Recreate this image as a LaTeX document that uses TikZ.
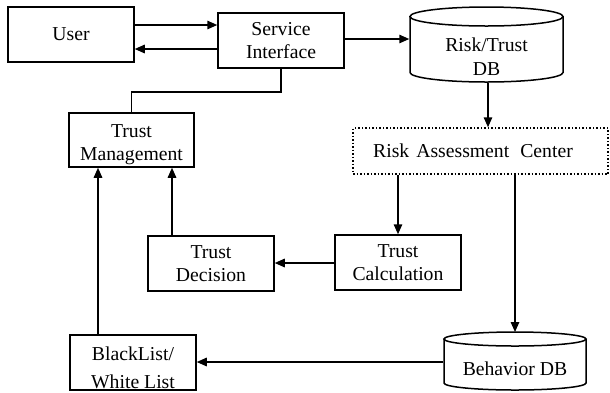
\documentclass[tikz,border=0pt]{standalone}
\usepackage{fontspec}
\setmainfont{Liberation Serif}
\usetikzlibrary{arrows.meta}
\begin{document}
\begin{tikzpicture}[x=1pt,y=-1pt,line width=1.5pt,
  txt/.style={font=\fontsize{19.7}{23.5}\selectfont},
  box/.style={draw,rectangle,minimum width=126pt,minimum height=55pt,inner sep=0pt,align=center,txt},
  lbl/.style={txt,inner sep=0pt,anchor=base},
  dbnode/.style={rectangle,inner sep=0pt,align=center,txt},
  arr/.style={-{Triangle[length=10pt,width=8.5pt]}}]
\useasboundingbox (0,0) rectangle (610,392);
\clip (0,0) rectangle (610,392);
% boxes
\node[box] (user) at (71,34.5) {User};
\node[box] (si) at (281,40.5) {Service\\Interface};
\node[box,minimum width=125pt,minimum height=54pt] (tm) at (131.5,140) {};
\node[lbl] (tm1) at (131.5,137) {Trust};
\node[lbl] (tm2) at (131.5,160) {Management};
\node[box] (td) at (211,263.5) {Trust\\Decision};
\node[box] (tc) at (398,262.5) {Trust\\Calculation};
\node[box] (bl) at (133,362.5) {};
\node[lbl] (bl1) at (133,360) {BlackList/};
\node[lbl] (bl2) at (133,388) {White List};
\node[box,dotted,minimum width=255pt,minimum height=46pt] (rac) at (480.5,151)
  {Risk\hspace{7pt}Assessment\hspace{11pt}Center\hspace{15pt}};
% databases
\node[dbnode,minimum width=153pt,minimum height=51pt] (rtdb) at (486.5,56.5) {Risk/Trust\\DB};
\draw (486.5,16.5) ellipse [x radius=76.5, y radius=9.5];
\draw (410,16.5) -- (410,72.5) arc[start angle=180,end angle=0,x radius=76.5,y radius=9.5] -- (563,16.5);
\node[dbnode,minimum width=142pt,minimum height=43pt] (bdb) at (515,368.5) {Behavior DB};
\coordinate (bdbtop) at (515,332);
\draw (515,339) ellipse [x radius=71, y radius=7];
\draw (444,339) -- (444,383) arc[start angle=180,end angle=0,x radius=71,y radius=7] -- (586,339);
% connectors
\draw[arr] (user.east |- 0,25) -- (si.west |- 0,25);
\draw[arr] (si.west |- 0,49) -- (user.east |- 0,49);
\draw (si.south) -- ++(0,23) -| (tm.north);
\draw[arr] (si.east |- 0,39) -- (rtdb.west |- 0,39);
\draw[arr] (rtdb.south -| 488,0) -- (rac.north -| 488,0);
\draw[arr] (rac.south -| tc.north) -- (tc.north);
\draw[arr] (rac.south -| bdbtop) -- (bdbtop);
\draw[arr] (tc.west |- 0,263) -- (td.east |- 0,263);
\draw[arr] (td.north -| 172,0) -- (tm.south -| 172,0);
\draw[arr] (bl.north -| 98,0) -- (tm.south -| 98,0);
\draw[arr] (bdb.west |- 0,362) -- (bl.east |- 0,362);
\end{tikzpicture}
\end{document}
